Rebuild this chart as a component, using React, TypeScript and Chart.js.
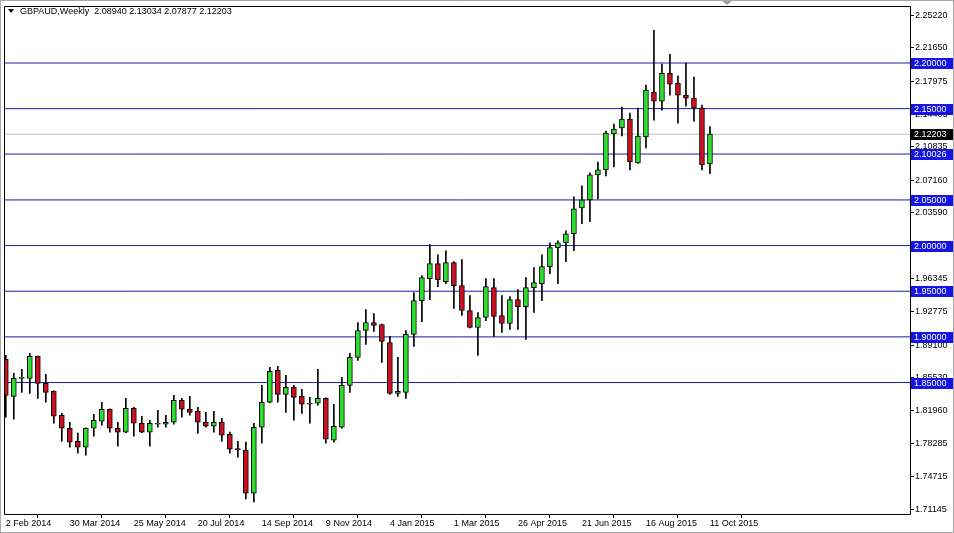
import { useEffect, useRef } from 'react';
import { Chart, registerables } from 'chart.js';

Chart.register(...registerables);

// Weekly GBPAUD candles, first candle = week of 2 Feb 2014
const opens = [
  1.8753, 1.8349, 1.8546, 1.8546, 1.8786, 1.8491, 1.8404, 1.8142, 1.7999, 1.7857,
  1.7792, 1.7999, 1.8076, 1.8207, 1.7999, 1.7956, 1.8218, 1.8054, 1.7956, 1.8043,
  1.8043, 1.8065, 1.8305, 1.8207, 1.8185, 1.8065, 1.8021, 1.8065, 1.7934, 1.7770,
  1.7759, 1.7289, 1.8010, 1.8284, 1.8633, 1.8371, 1.8447, 1.8349, 1.8262, 1.8273,
  1.8327, 1.7868, 1.8010, 1.8469, 1.8775, 1.9070, 1.9158, 1.9136, 1.8939, 1.8382,
  1.8393, 1.9027, 1.9398, 1.9638, 1.9802, 1.9605, 1.9813, 1.9562, 1.9289, 1.9103,
  1.9212, 1.9540, 1.9234, 1.9147, 1.9409, 1.9332, 1.9540, 1.9583, 1.9769, 1.9977,
  2.0031, 2.0130, 2.0414, 2.0501, 2.0774, 2.0829, 2.1222, 2.1288, 2.1386, 2.0905,
  2.1189, 2.1681, 2.1583, 2.1888, 2.1779, 2.1648, 2.1615, 2.1506, 2.0894,
];
const highs = [
  1.8797, 1.8600, 1.8644, 1.8819, 1.8790, 1.8589, 1.8410, 1.8163, 1.8065, 1.7945,
  1.8005, 1.8153, 1.8284, 1.8212, 1.8065, 1.8327, 1.8229, 1.8131, 1.8087, 1.8196,
  1.8142, 1.8360, 1.8327, 1.8349, 1.8229, 1.8174, 1.8185, 1.8109, 1.7956, 1.7857,
  1.7847, 1.8054, 1.8469, 1.8666, 1.8677, 1.8578, 1.8469, 1.8425, 1.8338, 1.8644,
  1.8332, 1.8262, 1.8557, 1.8819, 1.9158, 1.9300, 1.9256, 1.9140, 1.9005, 1.8775,
  1.9070, 1.9485, 1.9671, 2.0010, 1.9900, 1.9944, 1.9824, 1.9846, 1.9453, 1.9267,
  1.9638, 1.9638, 1.9453, 1.9442, 1.9518, 1.9649, 1.9758, 1.9900, 2.0031, 2.0053,
  2.0162, 2.0534, 2.0654, 2.0796, 2.0916, 2.1255, 2.1331, 2.1517, 2.1452, 2.1506,
  2.1757, 2.2358, 2.1987, 2.2096, 2.1856, 2.1998, 2.1845, 2.1539, 2.13034,
];
const lows = [
  1.8120, 1.8098, 1.8393, 1.8382, 1.8327, 1.8284, 1.8054, 1.7857, 1.7792, 1.7726,
  1.7704, 1.7912, 1.8032, 1.7956, 1.7803, 1.7950, 1.7912, 1.7950, 1.7803, 1.8010,
  1.8010, 1.8043, 1.8120, 1.8142, 1.7945, 1.8010, 1.7956, 1.7857, 1.7726, 1.7683,
  1.7224, 1.7191, 1.7836, 1.8278, 1.8284, 1.8174, 1.8087, 1.8163, 1.8054, 1.8251,
  1.7836, 1.7847, 1.7999, 1.8393, 1.8742, 1.8917, 1.9059, 1.8720, 1.8371, 1.8349,
  1.8327, 1.8895, 1.9168, 1.9409, 1.9551, 1.9583, 1.9311, 1.9234, 1.9098, 1.8797,
  1.9179, 1.9005, 1.9048, 1.9081, 1.9081, 1.8972, 1.9267, 1.9398, 1.9693, 1.9583,
  1.9824, 1.9944, 2.0239, 2.0261, 2.0512, 2.0763, 2.0862, 2.1200, 2.0829, 2.0900,
  2.1069, 2.1375, 2.1484, 2.1648, 2.1342, 2.1528, 2.1364, 2.0829, 2.07877,
];
const closes = [
  1.8360, 1.8546, 1.8557, 1.8786, 1.8491, 1.8393, 1.8131, 1.7999, 1.7847, 1.7792,
  1.7999, 1.8087, 1.8207, 1.7999, 1.7956, 1.8218, 1.8054, 1.7956, 1.8054, 1.8048,
  1.8065, 1.8305, 1.8207, 1.8174, 1.8065, 1.8021, 1.8065, 1.7923, 1.7770, 1.7765,
  1.7289, 1.8010, 1.8284, 1.8622, 1.8371, 1.8447, 1.8338, 1.8262, 1.8267, 1.8327,
  1.7879, 1.8021, 1.8469, 1.8775, 1.9070, 1.9158, 1.9125, 1.8950, 1.8382, 1.8404,
  1.9027, 1.9398, 1.9649, 1.9802, 1.9627, 1.9813, 1.9562, 1.9289, 1.9103, 1.9212,
  1.9551, 1.9223, 1.9147, 1.9409, 1.9332, 1.9540, 1.9594, 1.9769, 1.9977, 2.0031,
  2.0130, 2.0403, 2.0501, 2.0774, 2.0829, 2.1233, 2.1277, 2.1386, 2.0916, 2.1200,
  2.1703, 2.1583, 2.1888, 2.1768, 2.1648, 2.1615, 2.1506, 2.0883, 2.12203,
];

const xTickIndex = [0, 8, 16, 24, 32, 40, 48, 56, 64, 72, 80, 88];
const xTickLabels = [
  '2 Feb 2014', '30 Mar 2014', '25 May 2014', '20 Jul 2014', '14 Sep 2014', '9 Nov 2014',
  '4 Jan 2015', '1 Mar 2015', '26 Apr 2015', '21 Jun 2015', '16 Aug 2015', '11 Oct 2015',
];
const yTickValues = [
  2.2522, 2.2165, 2.17975, 2.14405, 2.10835, 2.0716, 2.0359, 1.96345, 1.92775,
  1.891, 1.8553, 1.8196, 1.78285, 1.74715, 1.71145,
];
const levelLines = [2.2, 2.15, 2.10026, 2.05, 2.0, 1.95, 1.9, 1.85];
const currentPrice = 2.12203;
const titleText = 'GBPAUD,Weekly  2.08940 2.13034 2.07877 2.12203';

const X_MIN = -0.1;
const X_MAX = 113;
const Y_MIN = 1.706;
const Y_MAX = 2.262;
const FONT = '"Liberation Sans", Arial, sans-serif';
const BULL = '#2ee02e';
const BEAR = '#cc1022';
const LINE_BLUE = '#1c1ca6';
const BOX_BLUE = '#1414e6';

export default function App() {
  const ref = useRef<HTMLCanvasElement | null>(null);

  useEffect(() => {
    document.body.style.margin = '0';
    const canvas = ref.current;
    if (!canvas) return;

    const bodies = opens.map((o, i) => ({ x: i, y: [Math.min(o, closes[i]), Math.max(o, closes[i])] }));
    const wicks = opens.map((_, i) => ({ x: i, y: [lows[i], highs[i]] }));
    const bodyColors = opens.map((o, i) => (closes[i] >= o ? BULL : BEAR));

    const lineSets: any[] = levelLines.map((lv) => ({
      type: 'line',
      data: [{ x: X_MIN, y: lv }, { x: X_MAX, y: lv }],
      borderColor: LINE_BLUE,
      borderWidth: 1,
      pointRadius: 0,
      order: 5,
    }));
    lineSets.push({
      type: 'line',
      data: [{ x: X_MIN, y: currentPrice }, { x: X_MAX, y: currentPrice }],
      borderColor: '#c0c0c0',
      borderWidth: 1,
      pointRadius: 0,
      order: 6,
    });

    const overlay = {
      id: 'mt4overlay',
      beforeDraw(chart: any) {
        const c = chart.ctx;
        c.save();
        c.fillStyle = '#ffffff';
        c.fillRect(0, 0, chart.width, chart.height);
        c.restore();
      },
      afterDraw(chart: any) {
        const c = chart.ctx;
        const a = chart.chartArea;
        const ys = chart.scales.y;
        c.save();
        // outer frame
        c.strokeStyle = '#a8a8a8';
        c.lineWidth = 1;
        c.strokeRect(0.5, 0.5, chart.width - 1, chart.height - 1);
        // plot frame
        c.strokeStyle = '#000000';
        c.beginPath();
        c.moveTo(Math.round(a.left) - 0.5, Math.round(a.top) + 0.5);
        c.lineTo(Math.round(a.right) + 0.5, Math.round(a.top) + 0.5);
        c.lineTo(Math.round(a.right) + 0.5, Math.round(a.bottom) + 0.5);
        c.lineTo(Math.round(a.left) - 0.5, Math.round(a.bottom) + 0.5);
        c.closePath();
        c.stroke();
        // label boxes
        c.font = '9px ' + FONT;
        c.textBaseline = 'middle';
        c.textAlign = 'left';
        const drawBox = (v: number, bg: string) => {
          const y = Math.round(ys.getPixelForValue(v));
          c.fillStyle = bg;
          c.fillRect(a.right + 1, y - 5, 42, 11);
          c.fillStyle = '#ffffff';
          c.fillText(v.toFixed(5), a.right + 4, y + 0.5);
        };
        levelLines.forEach((lv) => drawBox(lv, BOX_BLUE));
        drawBox(currentPrice, '#000000');
        // title
        c.fillStyle = '#000000';
        c.beginPath();
        c.moveTo(8, 9);
        c.lineTo(14, 9);
        c.lineTo(11, 13);
        c.closePath();
        c.fill();
        c.textBaseline = 'middle';
        c.fillText(titleText, 20, 12);
        // chart shift marker
        c.fillStyle = '#a0a0a0';
        c.beginPath();
        c.moveTo(722, 1);
        c.lineTo(732, 1);
        c.lineTo(727, 5);
        c.closePath();
        c.fill();
        c.restore();
      },
    };

    const chart = new Chart(canvas, {
      type: 'bar',
      data: {
        datasets: [
          {
            type: 'bar',
            data: bodies as any,
            backgroundColor: bodyColors,
            borderColor: '#000000',
            borderWidth: 1,
            borderSkipped: false,
            barThickness: 5,
            minBarLength: 1,
            grouped: false,
            order: 1,
          } as any,
          {
            type: 'bar',
            data: wicks as any,
            backgroundColor: '#000000',
            borderWidth: 0,
            barThickness: 1,
            grouped: false,
            order: 2,
          } as any,
          ...lineSets,
        ],
      },
      options: {
        responsive: false,
        animation: false,
        events: [],
        layout: { padding: { left: 5, top: 5, right: 0, bottom: 0 } },
        plugins: { legend: { display: false }, tooltip: { enabled: false } },
        scales: {
          x: {
            type: 'linear',
            min: X_MIN,
            max: X_MAX,
            offset: false,
            afterBuildTicks: (s: any) => {
              s.ticks = xTickIndex.map((v) => ({ value: v }));
            },
            afterFit: (s: any) => {
              s.height = 19;
            },
            grid: { display: true, drawOnChartArea: false, drawTicks: true, tickLength: 4, color: '#000000' },
            border: { display: false },
            ticks: {
              autoSkip: false,
              maxRotation: 0,
              align: 'start',
              padding: 0,
              color: '#000000',
              font: { family: FONT, size: 9 },
              callback: (v: any) => {
                const k = xTickIndex.indexOf(Number(v));
                return k >= 0 ? xTickLabels[k] : '';
              },
            },
          },
          y: {
            type: 'linear',
            position: 'right',
            min: Y_MIN,
            max: Y_MAX,
            afterBuildTicks: (s: any) => {
              s.ticks = yTickValues.map((v) => ({ value: v }));
            },
            afterFit: (s: any) => {
              s.width = 44;
            },
            grid: { display: true, drawOnChartArea: false, drawTicks: true, tickLength: 4, color: '#000000' },
            border: { display: false },
            ticks: {
              autoSkip: false,
              padding: 1,
              color: '#000000',
              font: { family: FONT, size: 9 },
              callback: (v: any) => Number(v).toFixed(5),
            },
          },
        },
      },
      plugins: [overlay],
    });

    return () => chart.destroy();
  }, []);

  return (
    <div style={{ width: 954, height: 533, position: 'relative' }}>
      <canvas ref={ref} width={954} height={533} style={{ display: 'block' }} />
    </div>
  );
}
